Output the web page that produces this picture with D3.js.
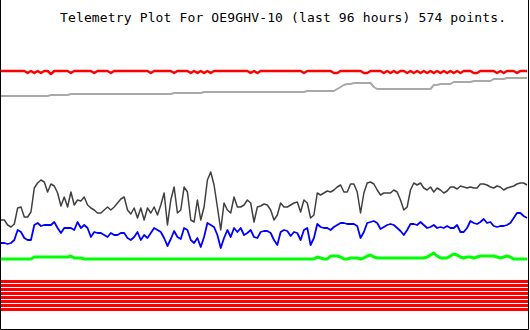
<!DOCTYPE html>
<html lang="en">
<head>
  <title>Telemetry Plot</title>
  <meta charset="utf-8"/>
  <script src="https://d3js.org/d3.v7.min.js"></script>
  <style>
    body { margin: 0; background: #fff; }
    svg { display: block; }
  </style>
</head>
<body>
<svg id="plot" width="530" height="330"></svg>
<script>
// station + title
const station = "OE9GHV-10";
const hours = 96;
const points = 574;

// readings, one every 96/158 h (downsampled from the 574 points), raw units
const ch1 = [240,240,240,240,240,240,240,240,238,240,238,240,238,240,240,237,240,240,240,240,
  240,238,240,240,240,240,240,240,238,240,240,240,240,238,240,240,240,240,240,240,
  240,240,240,240,240,238,240,240,240,240,240,240,238,240,240,240,240,238,240,238,
  240,238,240,238,240,240,240,240,240,240,240,240,240,240,240,238,240,238,240,240,
  240,240,240,240,240,240,240,240,240,240,240,238,240,240,240,240,240,240,240,240,
  238,238,240,240,240,240,240,240,240,238,238,240,240,240,240,238,240,238,240,238,
  240,240,238,240,238,240,238,240,238,240,238,240,238,240,238,240,238,240,238,240,
  240,240,238,238,240,240,240,240,240,238,240,238,240,240,240,238,240,240,240];

const ch2 = [215,215,215,215,215,215,215,215,215,215,215,215,215,215,215,216,216,216,216,216,
  216,217,217,217,217,217,217,217,217,217,217,217,217,217,217,217,217,217,217,217,
  217,217,217,217,217,217,217,217,217,217,217,217,218,218,218,218,218,218,218,218,
  218,219,219,219,219,219,219,219,219,219,219,219,219,219,219,219,219,219,219,219,
  219,219,219,219,219,219,219,219,219,219,219,219,220,220,220,220,220,220,220,220,
  220,222,224,226,227,227,228,228,228,228,228,228,224,222,222,222,222,222,222,222,
  222,222,222,222,222,222,222,222,222,222,226,226,227,227,227,227,229,229,229,229,
  229,229,230,230,230,230,230,230,232,232,232,232,233,233,233,233,233,233,233];

const ch3 = [91,91,86,84,87,103,104,94,94,99,123,128,131,129,119,127,125,118,105,114,
  104,119,106,111,110,114,106,103,101,98,98,101,104,101,104,108,112,114,101,97,
  103,93,103,91,103,98,104,96,106,118,86,111,124,98,101,124,119,91,89,111,
  91,104,131,139,126,104,81,108,101,98,114,104,104,106,111,108,89,104,105,107,
  106,101,91,96,108,104,104,106,108,109,99,111,108,93,96,118,116,118,120,119,
  121,124,126,119,119,127,127,119,98,118,128,129,127,121,116,118,118,118,121,119,
  111,101,104,121,128,126,128,123,121,124,119,123,121,118,120,124,124,122,125,124,
  123,124,123,123,127,127,126,124,123,125,124,121,123,124,125,127,128,128,126];

const ch4 = [68,68,67,68,71,81,79,73,71,71,86,88,85,86,86,86,89,83,78,83,
  83,83,81,89,83,86,83,74,79,78,78,76,74,78,76,76,78,78,73,71,
  74,79,71,76,73,78,83,81,79,73,65,72,80,74,72,83,81,71,68,73,
  64,74,88,86,84,76,63,73,81,74,83,79,83,76,78,81,74,73,79,80,
  80,78,71,66,79,81,80,75,79,78,71,81,83,66,73,87,84,83,83,81,
  84,86,88,88,87,87,87,85,73,79,88,89,90,88,82,84,86,87,86,83,
  80,76,81,87,87,86,89,86,83,84,86,83,84,83,85,83,83,86,79,79,
  83,90,88,87,89,92,88,89,85,84,85,85,86,88,93,98,98,95,93];

const ch5 = [52,52,52,52,52,52,52,52,52,52,54,54,54,54,54,54,54,54,54,54,
  54,55,53,53,53,52,52,52,52,52,52,52,52,52,52,52,52,52,52,52,
  52,52,52,52,52,52,52,52,52,52,52,52,52,52,52,52,52,52,52,52,
  52,52,52,52,52,52,52,52,52,52,52,52,52,52,52,52,52,52,52,52,
  52,52,52,52,52,52,52,52,52,52,52,52,52,52,52,54,53,52,52,55,
  55,55,54,52,52,53,53,53,52,53,55,56,54,53,53,53,53,53,53,53,
  53,53,53,53,53,53,53,53,54,56,58,55,53,53,53,55,57,56,54,53,
  54,54,53,54,55,55,55,55,55,54,53,54,55,54,52,52,52,52,52];

// digital bits B1..B8 (all set for the whole period)
const bits = [1,1,1,1,1,1,1,1];

const svg = d3.select("#plot");

const x = d3.scaleLinear().domain([0, ch3.length - 1]).range([1, 527]);
const y = d3.scaleLinear().domain([0, 255]).range([311, 56]);
const bitY = d3.scaleLinear().domain([0, bits.length]).range([280, 312]);

svg.append("rect").attr("width", 530).attr("height", 330).attr("fill", "#fff");

svg.append("text")
  .attr("x", 60).attr("y", 22)
  .attr("font-family", "'DejaVu Sans Mono', monospace")
  .attr("font-size", "13px")
  .attr("textLength", 446)
  .attr("lengthAdjust", "spacing")
  .attr("fill", "#000")
  .text("Telemetry Plot For " + station + " (last " + hours + " hours) " + points + " points.");

// digital bits as stacked stripes
svg.selectAll("rect.bit").data(bits).enter().append("rect")
  .attr("class", "bit")
  .attr("x", x(0))
  .attr("y", (d, i) => bitY(i))
  .attr("width", x(ch3.length - 1) - x(0) + 1)
  .attr("height", d => d ? 3 : 0)
  .attr("fill", "#ff0000");

const line = d3.line().x((d, i) => x(i)).y(d => y(d));

const series = [
  {vals: ch5, color: "#00ff00", w: 3},
  {vals: ch2, color: "#a9a9a9", w: 2},
  {vals: ch1, color: "#ff0000", w: 2.5},
  {vals: ch4, color: "#0000ff", w: 1.8},
  {vals: ch3, color: "#404040", w: 1.5}
];

svg.selectAll("path.ch").data(series).enter().append("path")
  .attr("class", "ch")
  .attr("d", d => line(d.vals))
  .attr("fill", "none")
  .attr("stroke", d => d.color)
  .attr("stroke-width", d => d.w)
  .attr("stroke-linejoin", "round");

// frame: left, right, bottom
svg.append("path")
  .attr("d", "M0.5,0V329.5H528.5V0")
  .attr("fill", "none")
  .attr("stroke", "#000")
  .attr("stroke-width", 1);
</script>
</body>
</html>
